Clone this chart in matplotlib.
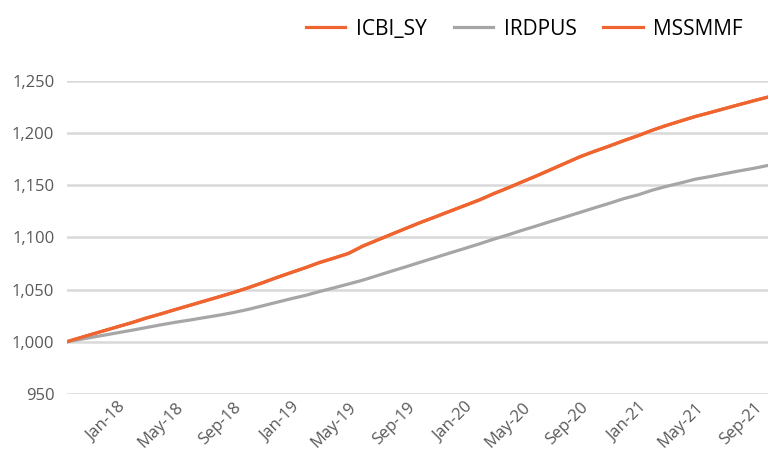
import matplotlib
matplotlib.use('Agg')
import matplotlib.pyplot as plt
import matplotlib.dates as mdates
import matplotlib.ticker as mticker
import pandas as pd

# monthly readings (first point is the start of the series)
dates = pd.to_datetime(['2017-09-15'] + [d.strftime('%Y-%m-%d') for d in pd.date_range('2017-10-01', '2021-10-01', freq='MS')])

icbi_sy = [1000.0, 1002.2, 1006.4, 1010.4, 1014.5, 1018.6, 1022.7, 1026.7, 1030.8, 1034.9,
           1038.9, 1043.0, 1047.2, 1051.6, 1056.5, 1061.5, 1066.4, 1071.2, 1075.9, 1080.2,
           1084.6, 1091.8, 1097.4, 1103.2, 1109.0, 1114.5, 1119.8, 1125.1, 1130.5, 1135.9,
           1141.7, 1147.4, 1153.2, 1159.1, 1165.1, 1171.3, 1177.5, 1182.6, 1187.6, 1192.7,
           1197.6, 1203.0, 1207.3, 1211.7, 1215.9, 1219.6, 1223.4, 1227.2, 1231.0, 1234.5]

irdpus = [1000.0, 1001.3, 1003.8, 1006.2, 1008.7, 1011.2, 1013.6, 1016.2, 1018.6, 1020.8,
          1023.1, 1025.4, 1028.0, 1030.9, 1034.4, 1037.8, 1041.3, 1044.6, 1048.1, 1051.7,
          1055.3, 1059.1, 1063.4, 1067.8, 1072.1, 1076.4, 1080.8, 1085.1, 1089.4, 1093.8,
          1098.1, 1102.4, 1106.8, 1111.1, 1115.4, 1119.7, 1124.1, 1128.4, 1132.7, 1137.1,
          1140.9, 1145.5, 1148.9, 1152.3, 1155.8, 1158.3, 1161.0, 1163.7, 1166.2, 1169.0]

# hidden underneath ICBI_SY in the picture
mssmmf = list(icbi_sy)

orange = '#F0652F'
grey = '#A6A6A6'

plt.rcParams['font.family'] = ['Open Sans', 'DejaVu Sans']

fig = plt.figure(figsize=(7.68, 4.57), dpi=100)
ax = fig.add_axes([0.087, 0.138, 0.913, 0.685])

ax.plot(dates, mssmmf, color=orange, lw=2.3, label='MSSMMF')
ax.plot(dates, irdpus, color=grey, lw=2.3, label='IRDPUS')
ax.plot(dates, icbi_sy, color=orange, lw=2.3, label='ICBI_SY')

ax.set_ylim(950, 1250)
ax.set_xlim(dates[0], dates[-1])
ax.yaxis.set_major_locator(mticker.MultipleLocator(50))
ax.yaxis.set_major_formatter(mticker.StrMethodFormatter('{x:,.0f}'))
ax.xaxis.set_major_locator(mdates.MonthLocator(bymonth=[1, 5, 9]))
ax.xaxis.set_major_formatter(mdates.DateFormatter('%b-%y'))

ax.grid(axis='y', color='#D9D9D9', lw=1.8)
ax.set_axisbelow(True)
for s in ax.spines.values():
    s.set_visible(False)
ax.tick_params(length=0, colors='#595959', labelsize=12)
ax.tick_params(axis='y', pad=9)
ax.tick_params(axis='x', pad=4)
for lbl in ax.get_xticklabels():
    lbl.set_rotation(45)
    lbl.set_ha('right')
    lbl.set_rotation_mode('anchor')

h, l = ax.get_legend_handles_labels()
order = [2, 1, 0]
fig.legend([h[i] for i in order], [l[i] for i in order], loc='upper right',
           bbox_to_anchor=(0.992, 1.0), ncol=3, frameon=False, fontsize=15,
           handlelength=1.9, columnspacing=1.3, handletextpad=0.5)

fig.savefig('out.png', dpi=100)
